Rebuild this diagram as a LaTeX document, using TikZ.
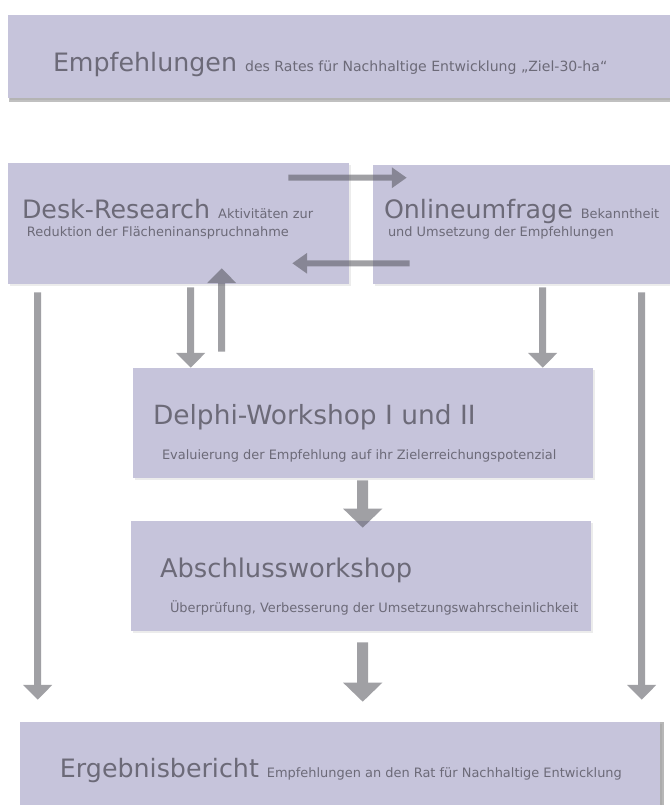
\documentclass[tikz,border=0pt]{standalone}
\usepackage{fontspec}
\setmainfont{DejaVu Sans}
\usepackage{tikz}
\usetikzlibrary{arrows.meta,calc,fit,shadows}
\definecolor{boxfill}{RGB}{198,196,219}
\definecolor{textgray}{RGB}{108,106,120}
\definecolor{arrowgray}{RGB}{88,88,96}
\newcommand{\notefont}{\fontsize{9.2}{11}\selectfont}

\begin{document}
\begin{tikzpicture}[
    x=0.025cm, y=-0.025cm,
    stage/.style={rectangle, fill=boxfill, inner sep=0pt, draw=none,
        drop shadow={shadow xshift=1.5pt, shadow yshift=-1.5pt, opacity=0.12, fill=black!60}},
    headline/.style={anchor=base west, inner sep=0pt, text=textgray, font=\fontsize{18}{20}\selectfont},
    note/.style={anchor=base west, inner sep=0pt, text=textgray, font=\notefont},
    arrow/.style={-{Triangle[width=20pt, length=10.5pt]}, line width=5pt, draw=arrowgray},
    flatarrow/.style={-{Triangle[width=14pt, length=10.5pt]}, line width=4.3pt, draw=arrowgray},
    bigarrow/.style={-{Triangle[width=27pt, length=13.5pt]}, line width=7.8pt, draw=arrowgray}
]
    \useasboundingbox[fill=white] (0,0) rectangle (670,805);

    % boxes
    \node[stage, fit={(8,15) (670,98)},
        drop shadow={shadow xshift=1pt, shadow yshift=-3pt, opacity=0.35, fill=black!70}] (recom) {};
    \node[stage, fit={(8,163) (349,284)}] (desk) {};
    \node[stage, fit={(373,165) (670,284)}] (online) {};
    \node[stage, fit={(133,368) (593,478)}] (delphi) {};
    \node[stage, fit={(131,521) (591,631)}] (final) {};
    \node[stage, fit={(20,722) (660,805)},
        drop shadow={shadow xshift=3pt, shadow yshift=0pt, opacity=0.4, fill=black!70}] (report) {};

    % texts
    \node[headline] (recomtitle) at ($(recom.north west)+(45,57)$)
        {Empfehlungen {\fontsize{10}{12}\selectfont des Rates für Nachhaltige Entwicklung „Ziel-30-ha“}};
    \node[headline] (desktitle) at ($(desk.north west)+(14,56)$)
        {Desk-Research {\notefont Aktivitäten zur}};
    \node[note] (desknote) at ($(desk.north west)+(19,74)$) {Reduktion der Flächeninanspruchnahme};
    \node[headline] (onlinetitle) at ($(online.north west)+(11,54)$)
        {Onlineumfrage {\notefont Bekanntheit}};
    \node[note] (onlinenote) at ($(online.north west)+(15,72)$) {und Umsetzung der Empfehlungen};
    \node[headline, font=\fontsize{18.8}{21}\selectfont] (delphititle) at ($(delphi.north west)+(20,57)$)
        {Delphi-Workshop I und II};
    \node[note] (delphinote) at ($(delphi.north west)+(29,92)$)
        {Evaluierung der Empfehlung auf ihr Zielerreichungspotenzial};
    \node[headline, font=\fontsize{18.3}{21}\selectfont] (finaltitle) at ($(final.north west)+(29,57)$)
        {Abschlussworkshop};
    \node[note] (finalnote) at ($(final.north west)+(39,92)$)
        {Überprüfung, Verbesserung der Umsetzungswahrscheinlichkeit};
    \node[headline] (reporttitle) at ($(report.north west)+(40,56)$)
        {Ergebnisbericht {\notefont Empfehlungen an den Rat für Nachhaltige Entwicklung}};

    % arrows
    \begin{scope}[transparency group, opacity=0.57]
        \draw[flatarrow] ($(desk.north east)+(-61,15)$) -- ($(online.north west)+(34,13)$);
        \draw[flatarrow] ($(online.south west)+(37,-21)$) -- ($(desk.south east)+(-57,-21)$);
        \draw[arrow] ($(desk.south west)+(183,3)$) -- ($(delphi.north west)+(58,0)$);
        \draw[arrow] ($(delphi.north west)+(89,-16)$) -- ($(desk.south west)+(214,-16)$);
        \draw[arrow] ($(online.south west)+(170,3)$) -- ($(delphi.north west)+(410,0)$);
        \draw[arrow] ($(desk.south west)+(30,8)$) -- ($(report.north west)+(18,-22)$);
        \draw[arrow] ($(online.south west)+(269,8)$) -- ($(report.north west)+(622,-22)$);
        \draw[bigarrow] ($(delphi.south west)+(230,2)$) -- ($(final.north west)+(232,7)$);
        \draw[bigarrow] ($(final.south west)+(232,11)$) -- ($(report.north west)+(343,-20)$);
    \end{scope}
\end{tikzpicture}
\end{document}
